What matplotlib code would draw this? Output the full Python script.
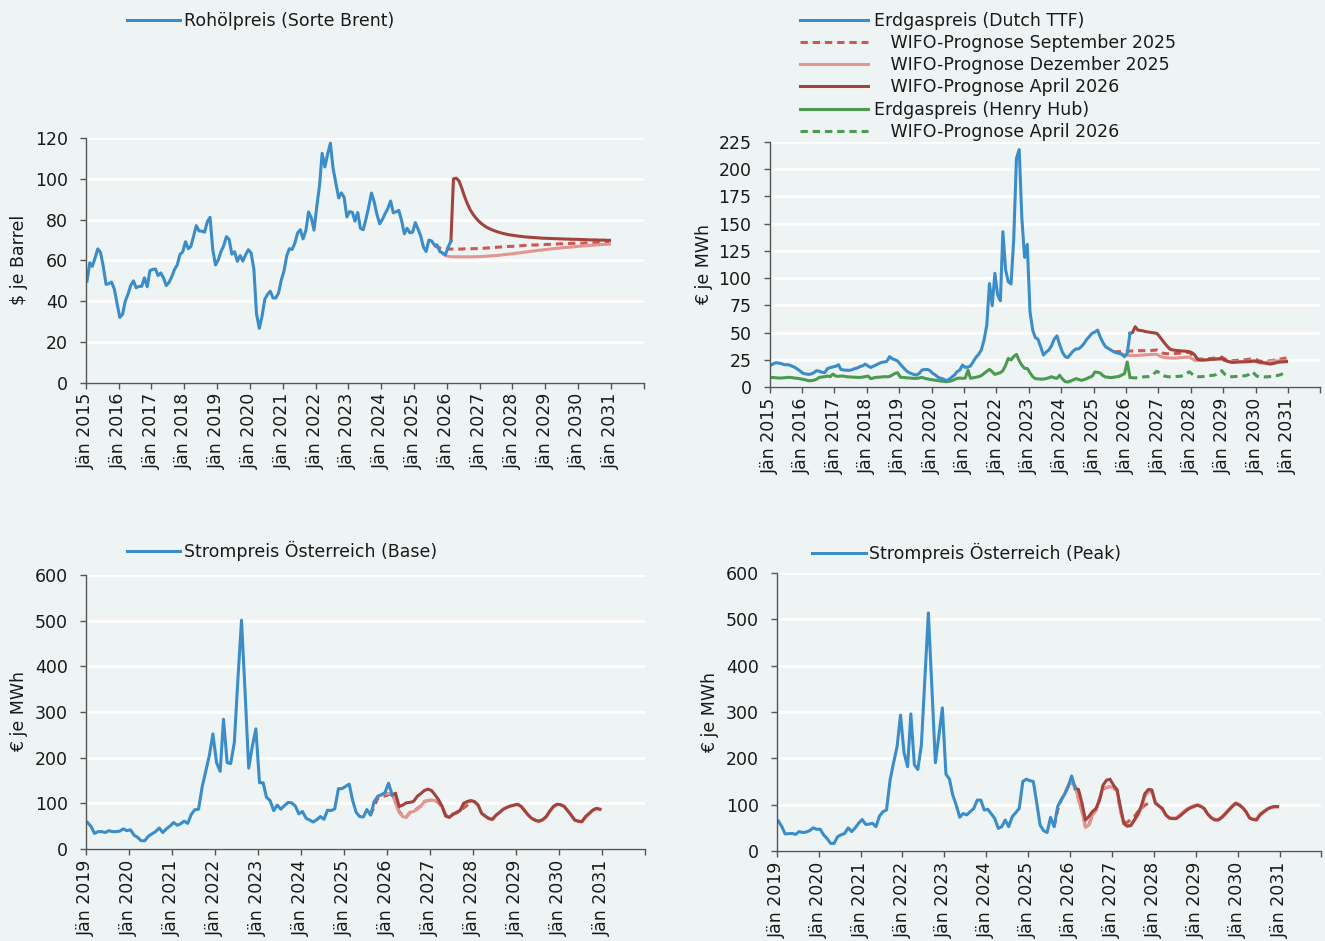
import matplotlib
matplotlib.use("Agg")
import matplotlib.pyplot as plt
import pandas as pd
from matplotlib.lines import Line2D

# ---------------- data (monthly values) ----------------
# Rohölpreis Brent, $ je Barrel, Jän 2015 - Feb 2026
brent = [
    49.8, 58.8, 57.0, 61.1, 65.6, 63.8, 57.0, 48.2, 48.5, 49.3, 45.9, 38.9,
    32.0, 33.5, 39.8, 43.3, 47.6, 49.9, 46.5, 47.2, 47.2, 51.4, 47.0, 54.9,
    55.5, 55.7, 52.5, 53.8, 51.4, 47.6, 49.1, 51.9, 55.5, 57.7, 62.9, 64.1,
    69.1, 65.7, 66.7, 71.8, 77.0, 74.4, 74.3, 73.8, 78.9, 81.1, 65.0, 57.7,
    60.2, 64.4, 67.0, 71.6, 70.3, 63.0, 64.2, 59.5, 62.3, 59.6, 62.7, 65.2,
    63.6, 55.5, 33.7, 26.6, 32.4, 40.8, 43.2, 44.8, 41.5, 41.5, 43.9, 50.2,
    54.8, 62.3, 65.7, 65.3, 68.3, 73.4, 75.0, 70.5, 74.6, 83.7, 80.8, 74.8,
    86.5, 97.0, 112.5, 105.8, 112.1, 117.5, 105.1, 97.7, 90.6, 93.1, 90.9, 81.3,
    83.9, 83.5, 79.2, 83.4, 75.7, 75.0, 80.1, 86.2, 93.0, 88.7, 82.5, 77.9,
    80.1, 83.0, 85.4, 89.1, 83.3, 83.8, 84.5, 79.5, 73.0, 75.7, 73.5, 73.8,
    78.5, 75.2, 72.0, 66.5, 64.3, 69.9, 69.5, 67.5, 67.5, 64.2, 63.6, 62.7,
    66.4, 69.5,
]
# WIFO-Prognose September 2025 (Aug 2025 - Dez 2030)
brent_sep25 = [
    67.2, 66.5, 66.0, 65.7, 65.6,
    65.5, 65.5, 65.5, 65.5, 65.5, 65.5, 65.6, 65.6, 65.6, 65.7, 65.7, 65.8,
    65.8, 65.9, 66.0, 66.1, 66.2, 66.3, 66.4, 66.5, 66.6, 66.7, 66.8, 66.8,
    66.9, 67.0, 67.1, 67.2, 67.3, 67.3, 67.4, 67.5, 67.5, 67.6, 67.7, 67.7,
    67.8, 67.8, 67.9, 68.0, 68.0, 68.1, 68.1, 68.2, 68.2, 68.3, 68.3, 68.4,
    68.4, 68.4, 68.5, 68.5, 68.6, 68.6, 68.6, 68.7, 68.7, 68.7, 68.8, 68.8,
]
# WIFO-Prognose Dezember 2025 (Nov 2025 - Dez 2030)
brent_dez25 = [
    63.3, 62.3,
    61.9, 61.8, 61.7, 61.7, 61.7, 61.7, 61.7, 61.7, 61.7, 61.7, 61.7, 61.8,
    61.8, 61.9, 62.0, 62.1, 62.2, 62.3, 62.4, 62.5, 62.7, 62.8, 63.0, 63.1,
    63.3, 63.5, 63.6, 63.8, 64.0, 64.2, 64.4, 64.5, 64.7, 64.9, 65.0, 65.2,
    65.3, 65.5, 65.6, 65.8, 65.9, 66.0, 66.2, 66.3, 66.4, 66.5, 66.6, 66.8,
    66.9, 67.0, 67.1, 67.2, 67.3, 67.4, 67.5, 67.6, 67.7, 67.8, 67.8, 67.9,
]
# WIFO-Prognose April 2026 (Feb 2026 - Dez 2030)
brent_apr26 = [
    69.5, 100.0, 100.3, 99.0, 95.5, 91.5, 88.0, 85.0, 82.8, 81.0, 79.5,
    78.2, 77.2, 76.3, 75.6, 75.0, 74.5, 74.0, 73.6, 73.2, 72.9, 72.6, 72.4,
    72.2, 72.0, 71.8, 71.7, 71.5, 71.4, 71.3, 71.2, 71.1, 71.0, 70.9, 70.8,
    70.8, 70.7, 70.7, 70.6, 70.6, 70.5, 70.5, 70.4, 70.4, 70.3, 70.3, 70.3,
    70.2, 70.2, 70.1, 70.1, 70.0, 70.0, 70.0, 69.9, 69.9, 69.9, 69.8, 69.8,
]

# Erdgaspreis Dutch TTF, € je MWh, Jän 2015 - Feb 2026
ttf = [
    20.0, 21.5, 22.3, 22.0, 21.5, 20.5, 20.5, 20.2, 19.0, 18.0, 16.2, 14.5,
    12.5, 12.0, 11.6, 12.0, 13.2, 15.0, 14.5, 13.5, 13.2, 17.0, 17.8, 18.5,
    19.0, 20.5, 16.2, 15.6, 15.5, 15.3, 15.8, 16.8, 17.5, 18.7, 19.5, 21.0,
    19.3, 18.0, 19.0, 20.2, 21.5, 22.6, 23.0, 23.6, 27.9, 26.0, 25.0, 23.9,
    20.8, 18.0, 15.6, 13.5, 12.5, 11.5, 11.0, 12.5, 15.6, 16.0, 16.2, 15.0,
    12.5, 11.0, 8.9, 8.0, 7.3, 5.8, 7.0, 9.0, 11.0, 14.1, 15.6, 20.2,
    18.0, 18.5, 19.3, 23.3, 27.2, 30.0, 34.0, 43.2, 57.0, 95.0, 74.7, 104.4,
    84.5, 79.3, 142.6, 107.4, 96.7, 94.6, 135.0, 210.0, 218.0, 155.0, 119.0, 131.0,
    69.0, 52.0, 45.6, 43.8, 37.0, 29.4, 32.0, 34.0, 38.0, 44.0, 47.0, 39.0,
    32.0, 28.0, 27.0, 30.0, 33.0, 35.0, 35.0, 37.0, 40.0, 43.7, 46.5, 49.3,
    50.5, 52.3, 46.2, 41.0, 37.0, 35.5, 34.0, 32.4, 31.5, 30.9, 30.0, 27.8,
    30.9, 49.3,
]
ttf_sep25 = [
    32.4, 32.4, 32.5, 32.5, 32.6,
    33.0, 33.0, 33.1, 33.2, 33.3, 33.4, 33.4, 33.4, 33.5, 33.6, 33.8, 34.0,
    32.5, 31.2, 30.8, 30.6, 30.6, 30.6, 30.8, 31.0, 31.2, 31.5, 31.7, 31.8,
    29.5, 27.0, 25.8, 25.7, 25.7, 25.8, 26.0, 26.2, 26.5, 26.8, 27.2, 27.5,
    26.0, 24.6, 24.2, 24.2, 24.3, 24.5, 24.7, 25.0, 25.2, 25.5, 25.8, 26.0,
    25.0, 23.8, 23.6, 23.6, 23.8, 24.1, 24.5, 24.9, 25.3, 25.8, 26.3, 26.6,
]
ttf_dez25 = [
    30.5, 29.5,
    29.3, 29.0, 29.0, 29.0, 29.0, 29.2, 29.4, 29.6, 29.8, 30.0, 30.0, 30.0,
    28.5, 27.5, 27.0, 26.8, 26.6, 26.6, 26.6, 26.8, 27.0, 27.2, 27.4, 27.5,
    26.0, 24.5, 24.5, 24.8, 25.0, 25.1, 25.2, 25.3, 25.4, 25.4, 25.5, 25.5,
    24.5, 23.6, 23.3, 23.2, 23.3, 23.4, 23.5, 23.6, 23.7, 23.8, 23.9, 24.0,
    23.0, 22.0, 22.0, 22.5, 23.0, 23.5, 24.0, 24.0, 24.0, 24.0, 24.0, 24.0,
]
ttf_apr26 = [
    49.3, 50.0, 55.4, 52.3, 52.0, 51.5, 50.8, 50.5, 50.0, 49.7, 49.3,
    46.3, 43.0, 40.0, 37.0, 34.6, 34.0, 33.7, 33.4, 33.2, 33.0, 32.8, 32.5,
    31.5, 29.4, 25.5, 24.8, 24.8, 24.8, 25.1, 25.4, 25.5, 25.8, 26.0, 26.3,
    24.8, 23.8, 23.0, 22.6, 22.8, 22.9, 23.0, 23.1, 23.2, 23.3, 23.6, 23.9,
    23.5, 23.0, 22.6, 22.0, 21.5, 21.1, 21.5, 22.2, 22.9, 23.0, 23.2, 23.3,
]
# Erdgaspreis Henry Hub, € je MWh, Jän 2015 - Feb 2026
henry_hub = [
    8.9, 8.7, 8.5, 8.3, 8.3, 8.5, 8.8, 8.9, 8.6, 8.2, 8.0, 7.5,
    7.0, 6.5, 5.8, 5.8, 6.3, 7.2, 8.9, 9.2, 9.5, 10.1, 9.5, 11.9,
    10.1, 9.8, 10.1, 10.0, 9.5, 9.3, 9.2, 9.0, 8.9, 8.8, 9.2, 9.5,
    10.1, 7.7, 8.3, 8.9, 9.0, 9.3, 9.5, 9.4, 9.6, 11.0, 12.5, 13.2,
    8.9, 8.9, 8.5, 8.3, 8.2, 8.0, 8.0, 8.3, 8.9, 8.0, 7.5, 7.0,
    6.5, 6.2, 5.8, 5.5, 5.2, 4.9, 5.2, 5.8, 6.8, 8.0, 8.2, 8.0,
    8.2, 15.6, 8.0, 8.5, 9.0, 9.5, 10.5, 12.5, 14.5, 16.2, 14.0, 11.6,
    12.5, 13.2, 15.0, 20.0, 26.3, 24.8, 28.0, 30.0, 24.2, 20.0, 17.1, 17.1,
    13.0, 9.5, 7.7, 7.5, 7.3, 7.3, 7.8, 8.5, 9.5, 8.5, 8.0, 10.8,
    7.5, 5.0, 4.6, 5.5, 6.5, 7.7, 7.0, 6.1, 6.8, 7.7, 9.0, 9.8,
    13.8, 13.5, 12.9, 10.5, 9.2, 9.0, 8.6, 9.0, 9.5, 9.8, 11.0, 12.3,
    23.0, 8.9,
]
henry_hub_apr26 = [
    8.9, 8.5, 8.4, 8.6, 9.0, 9.3, 9.5, 9.6, 10.5, 12.5, 14.5,
    13.0, 11.0, 10.0, 9.5, 9.4, 9.5, 9.6, 9.8, 10.0, 10.8, 12.5, 14.0,
    12.0, 10.0, 9.5, 9.5, 9.6, 10.0, 10.5, 10.6, 10.8, 11.5, 13.0, 15.0,
    12.0, 10.0, 9.5, 9.5, 9.6, 9.8, 10.0, 10.2, 10.5, 11.5, 14.0, 12.5,
    10.0, 9.5, 9.3, 9.3, 9.4, 9.6, 9.9, 10.3, 10.8, 11.5, 12.8, 14.0,
]

# Strompreis Österreich (Base), € je MWh, Jän 2019 - Feb 2026
power_base = [
    58, 49, 34, 38, 38, 36, 40, 38, 38, 39, 44, 40,
    42, 30, 25.5, 18, 18, 28, 33, 38, 46, 36, 44, 50,
    58, 52, 55, 61, 56, 76, 86, 87, 136, 170, 205, 252,
    189, 170, 284, 189, 187, 233, 370, 501, 340, 177, 225, 263,
    145, 145, 113, 106, 84, 96, 87, 95, 102, 101, 94, 77,
    82, 67, 63.5, 59, 64, 71, 65, 85, 84, 88, 132, 132,
    137, 142, 107, 80, 71, 70, 86.5, 74, 104, 115, 119, 123,
    144, 118,
]
base_sep25 = [
    74, 93, 111, 114, 116,
    119, 120, 105, 82, 73, 70, 80, 82, 88, 94, 104, 106,
    107, 106, 101, 92, 74, 71, 76, 79, 82, 90, 96, 101,
]
base_dez25 = [
    115, 118, 122,
    121, 122, 100, 80, 71, 69, 80, 82, 87, 93, 104, 106,
    107, 106, 102, 93, 74, 70, 75, 80, 86, 98, 103, 105,
    103, 95, 79, 72, 66, 64, 73, 80, 87, 91, 94, 96,
    97, 93, 85, 75, 67, 62, 60, 63, 70, 82, 92, 97,
    97, 93, 85, 75, 64, 60, 59, 69, 77, 84, 88, 87,
]
base_apr26 = [
    118, 122, 93, 96, 101, 102, 104, 115, 121, 128, 131,
    128, 118, 108, 93, 72, 69, 76, 80, 84, 100, 104, 106,
    104, 96, 78, 72, 67, 65, 74, 80, 87, 91, 94, 96,
    98, 93, 84, 74, 67, 63, 61, 64, 71, 83, 93, 98,
    97, 93, 84, 74, 63, 61, 60, 71, 78, 85, 89, 87,
]

# Strompreis Österreich (Peak), € je MWh, Jän 2019 - Feb 2026
power_peak = [
    65, 52.5, 37, 37.5, 38, 36, 42, 40, 41, 44, 50, 47,
    47, 34.5, 27, 16.5, 16.5, 31, 35, 38, 50, 42, 50, 60,
    68, 57.5, 58, 60, 52.5, 75.5, 85, 88.5, 153, 190, 225, 293.5,
    212, 182, 296, 186, 176, 229, 370, 514, 350, 190.6, 250, 309,
    166, 155, 121, 99, 73, 81, 78, 85, 92, 110, 110, 88.5,
    90, 80, 70.5, 49, 52.5, 67, 52.5, 74, 83, 92, 150, 155,
    152, 150, 106, 56, 44, 40, 72.7, 52.5, 96, 110, 123, 139,
    162, 135,
]
peak_sep25 = [
    52.5, 88.5, 110, 124, 139,
    145, 140, 112, 86, 53, 57, 78, 88, 113, 134, 137, 138,
    135, 131, 88, 62, 62, 68, 74, 85, 92, 99, 103, 106,
]
peak_dez25 = [
    123, 142,
    147, 139, 112, 85, 51, 56, 78, 88, 114, 135, 138, 139,
    136, 132, 88, 58, 53, 56, 66, 77, 92, 118, 127, 128,
    105, 98, 90, 78, 72, 71, 72, 78, 85, 91, 95, 98,
    100, 97, 91, 79, 72, 68, 68, 74, 82, 90, 98, 104,
    101, 93, 84, 72, 69, 70, 80, 86, 91, 94, 95, 95,
]
peak_apr26 = [
    135, 133, 103, 67, 75, 85, 92, 110, 142, 153, 155,
    142, 132, 96, 60, 54, 55, 67, 80, 98, 124, 133, 132,
    103, 97, 92, 78, 71, 70, 70, 75.5, 82, 88.5, 93, 96,
    99, 96, 92, 80, 72, 67, 67, 72, 80, 88, 96, 103,
    99, 93, 85, 71, 68, 67, 78, 84, 90, 94, 96, 96,
]

# ---------------- style ----------------
BG = "#eef4f4"
AXIS = "#555555"
TXT = "#1a1a1a"
BLUE = "#3a8dc8"
RED_SEP = "#cf5752"
RED_DEZ = "#e3958f"
RED_APR = "#a2433d"
GREEN = "#4a9a4f"
FS = 12.5
LW = 2.2
DASH = (0, (2.4, 1.6))

plt.rcParams["font.family"] = "DejaVu Sans"
plt.rcParams["text.color"] = TXT


def monthly(start, values):
    # one point per month, placed in the middle of the month
    return pd.date_range(start, periods=len(values), freq="MS") + pd.Timedelta(days=14)


def style(ax, start_year, ymax, ystep, ylabel, label_x):
    ax.set_facecolor(BG)
    years = list(range(start_year, 2033))
    ax.set_xticks([pd.Timestamp(f"{y}-01-01") for y in years])
    ax.set_xticklabels([f"Jän {y}" if y < 2032 else "" for y in years], rotation=90)
    ax.set_xlim(pd.Timestamp(f"{start_year}-01-01"), pd.Timestamp("2032-01-01"))
    ax.set_ylim(0, ymax)
    ax.set_yticks(range(0, ymax + 1, ystep))
    ax.grid(axis="y", color="white", lw=2)
    ax.grid(axis="x", visible=False)
    ax.set_axisbelow(True)
    for s in ("top", "right"):
        ax.spines[s].set_visible(False)
    for s in ("left", "bottom"):
        ax.spines[s].set_color(AXIS)
        ax.spines[s].set_linewidth(1.0)
    ax.tick_params(axis="x", length=4.5, width=1, pad=3, color=AXIS, labelsize=FS, labelcolor=TXT)
    ax.tick_params(axis="y", length=4, width=1, pad=9, color=AXIS, labelsize=FS, labelcolor=TXT)
    ax.set_ylabel(ylabel, fontsize=FS, color=TXT)
    ax.yaxis.set_label_coords(label_x, 0.5)


fig = plt.figure(figsize=(13.25, 9.41), dpi=100, facecolor=BG)

ax1 = fig.add_axes([0.0647, 0.5935, 0.4212, 0.2598])
ax2 = fig.add_axes([0.5808, 0.5887, 0.4157, 0.2604])
ax3 = fig.add_axes([0.0648, 0.0978, 0.4219, 0.2912])
ax4 = fig.add_axes([0.5862, 0.0956, 0.4111, 0.2954])

# --- Rohöl ---
ax1.plot(monthly("2025-08", brent_sep25), brent_sep25, color=RED_SEP, lw=LW, ls=DASH)
ax1.plot(monthly("2025-11", brent_dez25), brent_dez25, color=RED_DEZ, lw=LW)
ax1.plot(monthly("2026-02", brent_apr26), brent_apr26, color=RED_APR, lw=LW)
ax1.plot(monthly("2015-01", brent), brent, color=BLUE, lw=LW)
style(ax1, 2015, 120, 20, "$ je Barrel", -0.104)

# --- Erdgas ---
ax2.plot(monthly("2015-01", henry_hub), henry_hub, color=GREEN, lw=LW)
ax2.plot(monthly("2026-02", henry_hub_apr26), henry_hub_apr26, color=GREEN, lw=LW, ls=DASH)
ax2.plot(monthly("2025-08", ttf_sep25), ttf_sep25, color=RED_SEP, lw=LW, ls=DASH)
ax2.plot(monthly("2025-11", ttf_dez25), ttf_dez25, color=RED_DEZ, lw=LW)
ax2.plot(monthly("2026-02", ttf_apr26), ttf_apr26, color=RED_APR, lw=LW)
ax2.plot(monthly("2015-01", ttf), ttf, color=BLUE, lw=LW)
style(ax2, 2015, 225, 25, "€ je MWh", -0.103)

# --- Strom Base ---
ax3.plot(monthly("2025-08", base_sep25), base_sep25, color=RED_SEP, lw=LW, ls=DASH)
ax3.plot(monthly("2025-10", base_dez25), base_dez25, color=RED_DEZ, lw=LW)
ax3.plot(monthly("2026-02", base_apr26), base_apr26, color=RED_APR, lw=LW)
ax3.plot(monthly("2019-01", power_base), power_base, color=BLUE, lw=LW)
style(ax3, 2019, 600, 100, "€ je MWh", -0.103)

# --- Strom Peak ---
ax4.plot(monthly("2025-08", peak_sep25), peak_sep25, color=RED_SEP, lw=LW, ls=DASH)
ax4.plot(monthly("2025-11", peak_dez25), peak_dez25, color=RED_DEZ, lw=LW)
ax4.plot(monthly("2026-02", peak_apr26), peak_apr26, color=RED_APR, lw=LW)
ax4.plot(monthly("2019-01", power_peak), power_peak, color=BLUE, lw=LW)
style(ax4, 2019, 600, 100, "€ je MWh", -0.106)

# --- legends ---
def legend(ax, handles, labels, x, y, hlen, hpad):
    ax.legend(handles, labels, loc="upper left", bbox_to_anchor=(x, y),
              bbox_transform=fig.transFigure, frameon=False, borderpad=0,
              borderaxespad=0, handlelength=hlen, handletextpad=hpad,
              labelspacing=0.24, fontsize=FS)


blue_h = Line2D([], [], color=BLUE, lw=LW)
legend(ax1, [blue_h], ["Rohölpreis (Sorte Brent)"], 127 / 1325, 1 - 12 / 941, 3.05, 0.23)
legend(ax3, [blue_h], ["Strompreis Österreich (Base)"], 127 / 1325, 1 - 541 / 941, 3.05, 0.23)
legend(ax4, [blue_h], ["Strompreis Österreich (Peak)"], 812 / 1325, 1 - 543 / 941, 3.1, 0.2)

gas_handles = [
    Line2D([], [], color=BLUE, lw=LW),
    Line2D([], [], color=RED_SEP, lw=LW, ls=DASH),
    Line2D([], [], color=RED_DEZ, lw=LW),
    Line2D([], [], color=RED_APR, lw=LW),
    Line2D([], [], color=GREEN, lw=LW),
    Line2D([], [], color=GREEN, lw=LW, ls=DASH),
]
gas_labels = [
    "Erdgaspreis (Dutch TTF)",
    "   WIFO-Prognose September 2025",
    "   WIFO-Prognose Dezember 2025",
    "   WIFO-Prognose April 2026",
    "Erdgaspreis (Henry Hub)",
    "   WIFO-Prognose April 2026",
]
legend(ax2, gas_handles, gas_labels, 800 / 1325, 1 - 12 / 941, 3.9, 0.35)

fig.savefig("out.png", dpi=100, facecolor=BG)
